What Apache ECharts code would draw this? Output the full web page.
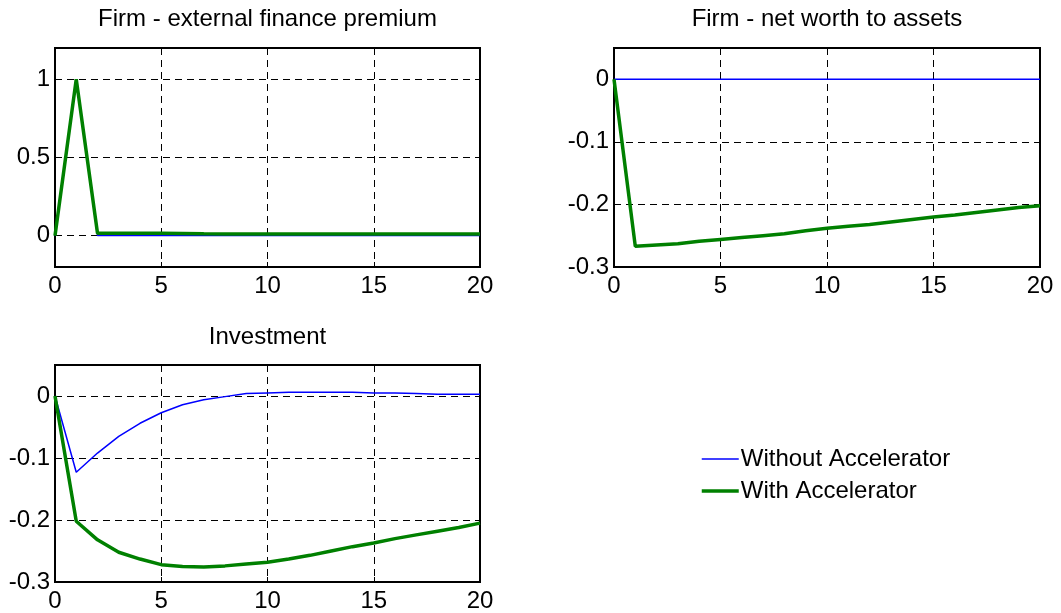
<!DOCTYPE html>
<html>
<head>
<meta charset="utf-8">
<script src="https://cdn.jsdelivr.net/npm/echarts@6/dist/echarts.min.js"></script>
<style>
html,body{margin:0;padding:0;background:#fff;}
#chart{width:1061px;height:613px;}
</style>
</head>
<body>
<div id="chart"></div>
<script>
// ---- data ----
const periods = [0,1,2,3,4,5,6,7,8,9,10,11,12,13,14,15,16,17,18,19,20];
const titles = ['Firm - external finance premium', 'Firm - net worth to assets', 'Investment'];
const seriesNames = ['Without Accelerator', 'With Accelerator'];

const premiumWithout = [0,1.0,0.002,0.002,0.002,0.002,0.002,0.001,0.001,0.001,0.001,0.001,0.001,0.001,0.001,0.001,0.001,0.001,0.001,0.001,0.001];
const premiumWith    = [0,1.0,0.016,0.016,0.015,0.015,0.014,0.012,0.011,0.011,0.011,0.011,0.011,0.011,0.011,0.011,0.011,0.011,0.011,0.011,0.011];

const netWorthWithout = [0,0,0,0,0,0,0,0,0,0,0,0,0,0,0,0,0,0,0,0,0];
const netWorthWith    = [0,-0.267,-0.265,-0.263,-0.259,-0.256,-0.253,-0.250,-0.247,-0.242,-0.238,-0.235,-0.232,-0.228,-0.224,-0.220,-0.217,-0.213,-0.209,-0.205,-0.202];

const investWithout = [0,-0.123,-0.092,-0.065,-0.044,-0.027,-0.014,-0.006,-0.001,0.004,0.005,0.006,0.006,0.006,0.006,0.005,0.005,0.004,0.003,0.003,0.003];
const investWith    = [0,-0.202,-0.232,-0.252,-0.263,-0.272,-0.275,-0.276,-0.274,-0.271,-0.268,-0.263,-0.257,-0.250,-0.243,-0.237,-0.230,-0.224,-0.218,-0.212,-0.205];

const xTicks = [0,5,10,15,20];
const premiumTicks = [0,0.5,1];
const lowerTicks = [-0.3,-0.2,-0.1,0];

// ---- chart ----
const FONT = 'Liberation Sans, Arial, sans-serif';
const FS = 24;
const BLUE = '#0000ff', GREEN = '#008000';
const WIDTHS = [1.5, 3.5];

function pairs(ys){ return periods.map((p,i)=>[p, ys[i]]); }

const grids = [
  {left:55, top:48, width:425, height:219},
  {left:614, top:48, width:426, height:219},
  {left:55, top:365, width:425, height:220}
].map(g => Object.assign(g, {show:true, borderColor:'#000', borderWidth:2, backgroundColor:'#fff', containLabel:false}));

const dashed = {show:true, lineStyle:{color:'#000', width:1, type:[7,5]}};

function xAxis(i){
  return {
    type:'value', gridIndex:i, min:0, max:20, interval:5,
    axisLine:{show:false, onZero:false},
    axisTick:{show:true, inside:true, length:5, lineStyle:{color:'#000'}, customValues:xTicks},
    axisLabel:{color:'#000', fontFamily:FONT, fontSize:FS, margin:7, showMinLabel:true, showMaxLabel:true, customValues:xTicks},
    splitLine: dashed
  };
}
function yAxis(i, min, max, ticks){
  return {
    type:'value', gridIndex:i, min:min, max:max,
    axisLine:{show:false, onZero:false},
    axisTick:{show:true, inside:true, length:5, lineStyle:{color:'#000'}, customValues:ticks},
    axisLabel:{color:'#000', fontFamily:FONT, fontSize:FS, margin:5, customValues:ticks,
      formatter: v => String(Math.round(v*10)/10)},
    splitLine: dashed
  };
}

function line(name, i, ys, color, width, z){
  return {
    name:name, type:'line', xAxisIndex:i, yAxisIndex:i, data:pairs(ys),
    symbol:'none', showSymbol:false, smooth:false, z:z,
    lineStyle:{color:color, width:width}, itemStyle:{color:color},
    emphasis:{disabled:true}, animation:false
  };
}

const titleCenters = [55+425/2, 614+426/2, 55+425/2];
const titleTops = [7, 7, 325];

const option = {
  animation:false,
  backgroundColor:'#fff',
  title: titles.map((t,i)=>({
    text:t, left:titleCenters[i], top:titleTops[i], textAlign:'center', padding:0,
    textStyle:{fontFamily:FONT, fontSize:FS, fontWeight:'normal', color:'#000'}
  })),
  grid: grids,
  xAxis:[xAxis(0), xAxis(1), xAxis(2)],
  yAxis:[
    yAxis(0, -0.2, 1.2, premiumTicks),
    yAxis(1, -0.3, 0.05, lowerTicks),
    yAxis(2, -0.3, 0.05, lowerTicks)
  ],
  legend:{
    orient:'vertical', left:700, top:447, padding:0,
    itemWidth:37, itemHeight:14, itemGap:8,
    data:seriesNames.map((n,k)=>({name:n, lineStyle:{width:WIDTHS[k]}})),
    itemStyle:{opacity:0},
    textStyle:{fontFamily:FONT, fontSize:FS, color:'#000', lineHeight:23, padding:[0,0,0,-3]}
  },
  series:[
    line(seriesNames[0], 0, premiumWithout, BLUE, WIDTHS[0], 3),
    line(seriesNames[1], 0, premiumWith, GREEN, WIDTHS[1], 4),
    line(seriesNames[0], 1, netWorthWithout, BLUE, WIDTHS[0], 3),
    line(seriesNames[1], 1, netWorthWith, GREEN, WIDTHS[1], 4),
    line(seriesNames[0], 2, investWithout, BLUE, WIDTHS[0], 3),
    line(seriesNames[1], 2, investWith, GREEN, WIDTHS[1], 4)
  ]
};

const chart = echarts.init(document.getElementById('chart'), null, {renderer:'canvas'});
chart.setOption(option);
</script>
</body>
</html>
